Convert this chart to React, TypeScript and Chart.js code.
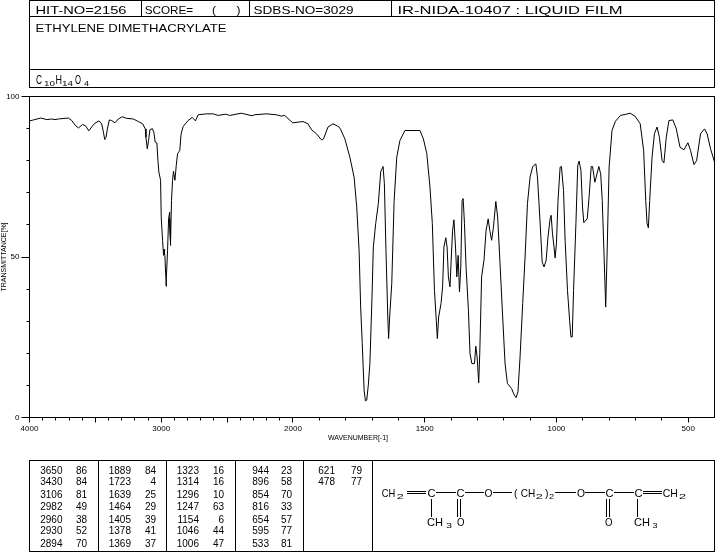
import React, { useEffect, useRef } from "react";
import { Chart, registerables } from "chart.js";

Chart.register(...registerables);

// Spectrum
const wavenumbers = [
  4000, 3970, 3914, 3869, 3831, 3806, 3780, 3705, 3679, 3654, 3629, 3596, 3571, 3550, 3528, 3503, 3472, 3452, 3439, 3429,
  3419, 3409, 3394, 3376, 3351, 3326, 3296, 3263, 3212, 3174, 3141, 3121, 3116, 3106, 3096, 3086, 3068, 3056, 3046, 3033,
  3025, 3018, 3005, 3000, 2990, 2982, 2972, 2982, 2972, 2967, 2960, 2964, 2952, 2944, 2936, 2929, 2936, 2929, 2922, 2914, 2907, 2896,
  2886, 2876, 2859, 2849, 2833, 2796, 2765, 2740, 2720, 2657, 2606, 2568, 2510, 2480, 2392, 2311, 2291, 2202,
  2126, 2089, 2063, 2002, 1962, 1943, 1929, 1911, 1892, 1884, 1867, 1848, 1829, 1821, 1803, 1784, 1768, 1758, 1749, 1743,
  1737, 1730, 1725, 1720, 1714, 1708, 1700, 1695, 1686, 1676, 1667, 1658, 1653, 1647, 1640, 1637, 1633, 1625, 1616, 1606,
  1594, 1575, 1518, 1505, 1492, 1480, 1471, 1463, 1456, 1452, 1447, 1438, 1432, 1427, 1420, 1415, 1410, 1404, 1399, 1394,
  1389, 1383, 1378, 1373, 1368, 1363, 1358, 1354, 1349, 1343, 1334, 1328, 1321, 1311, 1306, 1301, 1295, 1291, 1284, 1275,
  1267, 1259, 1253, 1246, 1239, 1230, 1223, 1214, 1204, 1195, 1186, 1170, 1160, 1153, 1146, 1138, 1128, 1119, 1110, 1100,
  1090, 1078, 1072, 1066, 1059, 1054, 1047, 1039, 1032, 1024, 1020, 1015, 1009, 1005, 1000, 994, 986, 981, 973, 967,
  958, 950, 945, 940, 935, 926, 919, 914, 907, 901, 896, 883, 876, 868, 863, 854, 846, 839, 832, 826,
  819, 813, 808, 800, 789, 776, 757, 739, 720, 701, 682, 669, 661, 656, 651, 646, 637, 628, 618, 609,
  599, 592, 583, 573, 558, 545, 531, 516, 501, 491, 478, 468, 453, 438, 428, 415, 400,
];
const transmittance = [
  92.4, 92.7, 93.3, 92.8, 93.0, 92.8, 93.0, 93.3, 92.5, 91.1, 90.2, 91.3, 90.7, 89.3, 90.5, 91.7, 92.4, 91.5, 88.9, 86.6,
  87.3, 89.9, 92.7, 92.5, 91.8, 93.0, 93.7, 93.2, 93.0, 92.2, 91.5, 89.9, 87.3, 83.7, 86.3, 89.6, 90.0, 88.9, 85.8, 85.5,
  80.0, 76.5, 73.9, 62.4, 55.2, 50.5, 52.3, 52.3, 50.5, 45.3, 40.9, 41.0, 52.0, 61.9, 64.0, 53.6, 62, 55, 67.6, 73.9, 76.7, 73.9,
  78.5, 82.2, 83.2, 88.4, 90.7, 92.5, 93.5, 92.4, 94.3, 94.6, 94.6, 94.1, 94.5, 94.1, 94.8, 94.0, 94.3, 94.6,
  94.3, 93.9, 94.1, 91.8, 92.2, 91.5, 89.6, 88.4, 86.5, 86.8, 90.5, 91.5, 90.7, 90.1, 86.8, 81.1, 74.9, 65.6, 52.1, 34.4,
  23.0, 8.5, 5.2, 5.4, 10.1, 16.8, 37.6, 53.1, 60.4, 66.6, 76.5, 78.2, 72.8, 52.1, 31.3, 24.6, 31.3, 41.7, 67.6, 81.1,
  86.3, 89.4, 89.4, 86.8, 82.2, 71.8, 60.4, 39.6, 30.3, 24.6, 31.3, 35.5, 40.7, 53.1, 56.0, 53.1, 43.8, 40.7, 50.0, 58.3,
  61.6, 53.1, 43.8, 50.5, 39.1, 46.9, 67.6, 68.2, 60.4, 46.9, 33.4, 19.9, 16.8, 16.8, 22.2, 18.9, 10.8, 19.9, 43.8, 49.0,
  58.3, 61.9, 58.3, 55.2, 59.3, 67.3, 62.4, 47.9, 31.3, 16.8, 10.6, 9.0, 7.0, 6.2, 8.0, 18.9, 35.5, 50.0, 66.6, 74.9,
  78.2, 79.0, 74.9, 66.6, 56.2, 48.4, 46.9, 49.0, 56.2, 61.9, 63.0, 57.3, 53.1, 49.7, 54.1, 67.6, 78.0, 78.2, 70.7, 55.2,
  39.6, 30.3, 25.1, 25.1, 39.6, 60.4, 78.5, 79.9, 77.0, 65.6, 60.7, 61.9, 68.7, 78.2, 78.2, 73.3, 75.9, 78.2, 75.9, 67.6,
  50.0, 34.4, 50.0, 78.0, 89.4, 92.3, 94.1, 94.4, 94.8, 93.8, 91.5, 83.2, 67.6, 60.4, 59.1, 67.6, 81.1, 88.4, 90.5, 87.3,
  80.1, 79.3, 87.3, 92.5, 92.7, 89.9, 84.2, 83.4, 85.6, 83.2, 78.8, 80.0, 88.4, 89.9, 88.4, 83.7, 79.6,
];

// Axis labels
const xLabelled = [4000, 3000, 2000, 1500, 1000, 500];
const yLabelled = [0, 50, 100];

// Header
const hitNo = "HIT-NO=2156";
const scoreLabel = "SCORE=";
const sdbsNo = "SDBS-NO=3029";
const irNo = "IR-NIDA-10407 : LIQUID FILM";
const compound = "ETHYLENE DIMETHACRYLATE";

// Peak table
const peakWave = [
  ["3650", "3430", "3106", "2982", "2960", "2930", "2894"],
  ["1889", "1723", "1639", "1464", "1405", "1378", "1369"],
  ["1323", "1314", "1296", "1247", "1154", "1046", "1006"],
  ["944", "896", "854", "816", "654", "595", "533"],
  ["621", "478"],
];
const peakT = [
  ["86", "84", "81", "49", "38", "52", "70"],
  ["84", "4", "25", "29", "39", "41", "37"],
  ["16", "16", "10", "63", "6", "44", "47"],
  ["23", "58", "70", "33", "57", "77", "81"],
  ["79", "77"],
];
const tableRowY = [473.5, 485, 497.7, 510, 522.5, 534.2, 547];
const waveRight = [62.5, 131, 199, 269, 335];
const tRight = [87, 156, 224, 292, 362];
const tableLines = [98.5, 166.5, 235.5, 303.5, 372.5];

const FONT = "'Liberation Sans', sans-serif";
const BREAK = 2000;
// The spectrum axis is twice as wide per wavenumber below 2000.
const toAxis = (w: number) => (w >= BREAK ? 4000 - w : BREAK + (BREAK - w) * 2);
const fromAxis = (u: number) => (u <= BREAK ? 4000 - u : BREAK - (u - BREAK) / 2);

const snap = (v: number) => Math.round(v - 0.5) + 0.5;

const frameAndTicks = {
  id: "frameAndTicks",
  afterDraw(chart: any) {
    const { ctx, chartArea: a, scales } = chart;
    ctx.save();
    ctx.strokeStyle = "#000";
    ctx.lineWidth = 1;
    ctx.strokeRect(snap(a.left), snap(a.top), snap(a.right) - snap(a.left), snap(a.bottom) - snap(a.top));
    ctx.beginPath();
    scales.x.ticks.forEach((t: any) => {
      const w = fromAxis(t.value);
      const px = snap(scales.x.getPixelForValue(t.value));
      ctx.moveTo(px, a.bottom);
      ctx.lineTo(px, a.bottom + (w % 500 === 0 ? 5 : 3));
    });
    scales.y.ticks.forEach((t: any) => {
      const py = snap(scales.y.getPixelForValue(t.value));
      ctx.moveTo(a.left, py);
      ctx.lineTo(a.left - (yLabelled.includes(t.value) ? 8 : 3), py);
    });
    ctx.stroke();
    ctx.restore();
  },
};

function Txt({ x, y, w, size, children }: any) {
  return (
    <text x={x} y={y} fontFamily={FONT} fontSize={size} fill="#000" textLength={w} lengthAdjust="spacingAndGlyphs">
      {children}
    </text>
  );
}

function RightTxt({ x, y, children }: any) {
  return (
    <text x={x} y={y} fontFamily={FONT} fontSize={10} fill="#000" textAnchor="end">
      {children}
    </text>
  );
}

function Overlay() {
  const ln = (x1: number, y1: number, x2: number, y2: number, key: string) => (
    <line key={key} x1={x1} y1={y1} x2={x2} y2={y2} stroke="#000" strokeWidth={1} shapeRendering="crispEdges" />
  );
  return (
    <svg width={715} height={553} style={{ position: "absolute", left: 0, top: 0 }}>
      <rect x={29.5} y={0.5} width={685} height={87} fill="none" stroke="#000" shapeRendering="crispEdges" />
      {ln(29.5, 16.5, 714.5, 16.5, "h1")}
      {ln(29.5, 69.5, 714.5, 69.5, "h2")}
      {ln(141.5, 0, 141.5, 16, "v1")}
      {ln(249.5, 0, 249.5, 16, "v2")}
      {ln(391.5, 0, 391.5, 16, "v3")}
      <Txt x={35.5} y={14} w={91} size={11}>{hitNo}</Txt>
      <Txt x={144.7} y={14} w={48.5} size={11}>{scoreLabel}</Txt>
      <Txt x={212} y={14} w={4} size={11}>(</Txt>
      <Txt x={236.5} y={14} w={4} size={11}>)</Txt>
      <Txt x={253.5} y={14} w={100} size={11}>{sdbsNo}</Txt>
      <Txt x={397.5} y={14} w={225} size={11}>{irNo}</Txt>
      <Txt x={35.5} y={31.5} w={191} size={11}>{compound}</Txt>
      <Txt x={36} y={83.5} w={6} size={12.5}>C</Txt>
      <Txt x={44} y={86} w={11} size={8}>10</Txt>
      <Txt x={55.5} y={83.5} w={6.5} size={12.5}>H</Txt>
      <Txt x={62} y={86} w={11} size={8}>14</Txt>
      <Txt x={75} y={83.5} w={6} size={12.5}>O</Txt>
      <Txt x={84} y={86} w={5} size={8}>4</Txt>

      <Txt x={328} y={439.5} w={60} size={7}>WAVENUMBER[-1]</Txt>

      <rect x={29.5} y={460.5} width={685} height={91} fill="none" stroke="#000" shapeRendering="crispEdges" />
      {tableLines.map((x, i) => ln(x, 460.5, x, 551.5, "t" + i))}
      {peakWave.map((col, c) =>
        col.map((w, r) => (
          <g key={c + "-" + r}>
            <RightTxt x={waveRight[c]} y={tableRowY[r]}>{w}</RightTxt>
            <RightTxt x={tRight[c]} y={tableRowY[r]}>{peakT[c][r]}</RightTxt>
          </g>
        )),
      )}

      <Txt x={381.7} y={497} w={13.5} size={11.5}>CH</Txt>
      <Txt x={396.7} y={499} w={7} size={8}>2</Txt>
      {ln(407, 491.5, 426, 491.5, "f1")}
      {ln(407, 493.5, 426, 493.5, "f2")}
      <Txt x={427.5} y={497} w={8} size={11.5}>C</Txt>
      {ln(436, 492.5, 456, 492.5, "f3")}
      <Txt x={456.5} y={497} w={8} size={11.5}>C</Txt>
      {ln(465, 492.5, 484, 492.5, "f4")}
      <Txt x={484.5} y={497} w={8} size={11.5}>O</Txt>
      {ln(493, 492.5, 512, 492.5, "f5")}
      <Txt x={514} y={497} w={3.5} size={11.5}>(</Txt>
      <Txt x={520.7} y={497} w={14.5} size={11.5}>CH</Txt>
      <Txt x={535.7} y={499} w={7} size={8}>2</Txt>
      <Txt x={545} y={497} w={3.5} size={11.5}>)</Txt>
      <Txt x={549} y={499} w={5} size={8}>2</Txt>
      {ln(555, 492.5, 576, 492.5, "f6")}
      <Txt x={577} y={497} w={8} size={11.5}>O</Txt>
      {ln(585, 492.5, 605, 492.5, "f7")}
      <Txt x={605.5} y={497} w={8} size={11.5}>C</Txt>
      {ln(614, 492.5, 634, 492.5, "f8")}
      <Txt x={634.5} y={497} w={8} size={11.5}>C</Txt>
      {ln(643, 491.5, 662, 491.5, "f9")}
      {ln(643, 493.5, 662, 493.5, "f10")}
      <Txt x={662.7} y={497} w={15} size={11.5}>CH</Txt>
      <Txt x={679} y={499} w={7} size={8}>2</Txt>

      {ln(431.5, 499, 431.5, 517, "f11")}
      {ln(457.5, 499, 457.5, 517, "f12")}
      {ln(460.5, 499, 460.5, 517, "f13")}
      {ln(606.5, 499, 606.5, 517, "f14")}
      {ln(609.5, 499, 609.5, 517, "f15")}
      {ln(637.5, 499, 637.5, 517, "f16")}
      <Txt x={427} y={526} w={16} size={11.5}>CH</Txt>
      <Txt x={446} y={528} w={6} size={8}>3</Txt>
      <Txt x={457} y={526} w={7.5} size={11.5}>O</Txt>
      <Txt x={605} y={526} w={7.5} size={11.5}>O</Txt>
      <Txt x={634} y={526} w={16} size={11.5}>CH</Txt>
      <Txt x={652.5} y={528} w={5} size={8}>3</Txt>
    </svg>
  );
}

export default function App() {
  const ref = useRef<HTMLCanvasElement>(null);
  useEffect(() => {
    if (!ref.current) return;
    const tickFont = { family: FONT, size: 8 };
    const chart = new Chart(ref.current, {
      type: "scatter",
      data: {
        datasets: [
          {
            label: "Transmittance",
            data: wavenumbers.map((w, i) => ({ x: toAxis(w), y: transmittance[i] })),
            showLine: true,
            borderColor: "#000",
            borderWidth: 1,
            pointRadius: 0,
            tension: 0,
          },
        ],
      },
      options: {
        responsive: false,
        animation: false,
        devicePixelRatio: 1,
        layout: { padding: { top: 96.5, right: 0.5, bottom: 115.5, left: 0 } },
        plugins: { legend: { display: false }, title: { display: false }, tooltip: { enabled: false } },
        scales: {
          x: {
            type: "linear",
            min: toAxis(4000),
            max: toAxis(400),
            grid: { display: false, drawTicks: false },
            border: { display: false },
            afterFit: (s: any) => { s.height = 20; },
            afterBuildTicks: (s: any) => {
              const ticks = [];
              for (let w = 4000; w >= 500; w -= 100) ticks.push({ value: toAxis(w) });
              s.ticks = ticks;
            },
            ticks: {
              autoSkip: false,
              maxRotation: 0,
              padding: 6,
              color: "#000",
              font: tickFont,
              callback: (v: any) => {
                const w = fromAxis(Number(v));
                return xLabelled.includes(w) ? String(w) : "";
              },
            },
          },
          y: {
            type: "linear",
            min: 0,
            max: 100,
            grid: { display: false, drawTicks: false },
            border: { display: false },
            afterFit: (s: any) => { s.width = 29.5; },
            title: {
              display: true,
              text: "TRANSMITTANCE[%]",
              color: "#000",
              font: { family: FONT, size: 7 },
              padding: { top: 0, bottom: 0 },
            },
            ticks: {
              stepSize: 10,
              padding: 10,
              color: "#000",
              font: tickFont,
              callback: (v: any) => (yLabelled.includes(Number(v)) ? String(v) : ""),
            },
          },
        },
      },
      plugins: [frameAndTicks],
    } as any);
    return () => chart.destroy();
  }, []);

  return (
    <div style={{ position: "absolute", left: 0, top: 0, width: 715, height: 553, background: "#fff" }}>
      <canvas ref={ref} width={715} height={553} style={{ position: "absolute", left: 0, top: 0 }} />
      <Overlay />
    </div>
  );
}
